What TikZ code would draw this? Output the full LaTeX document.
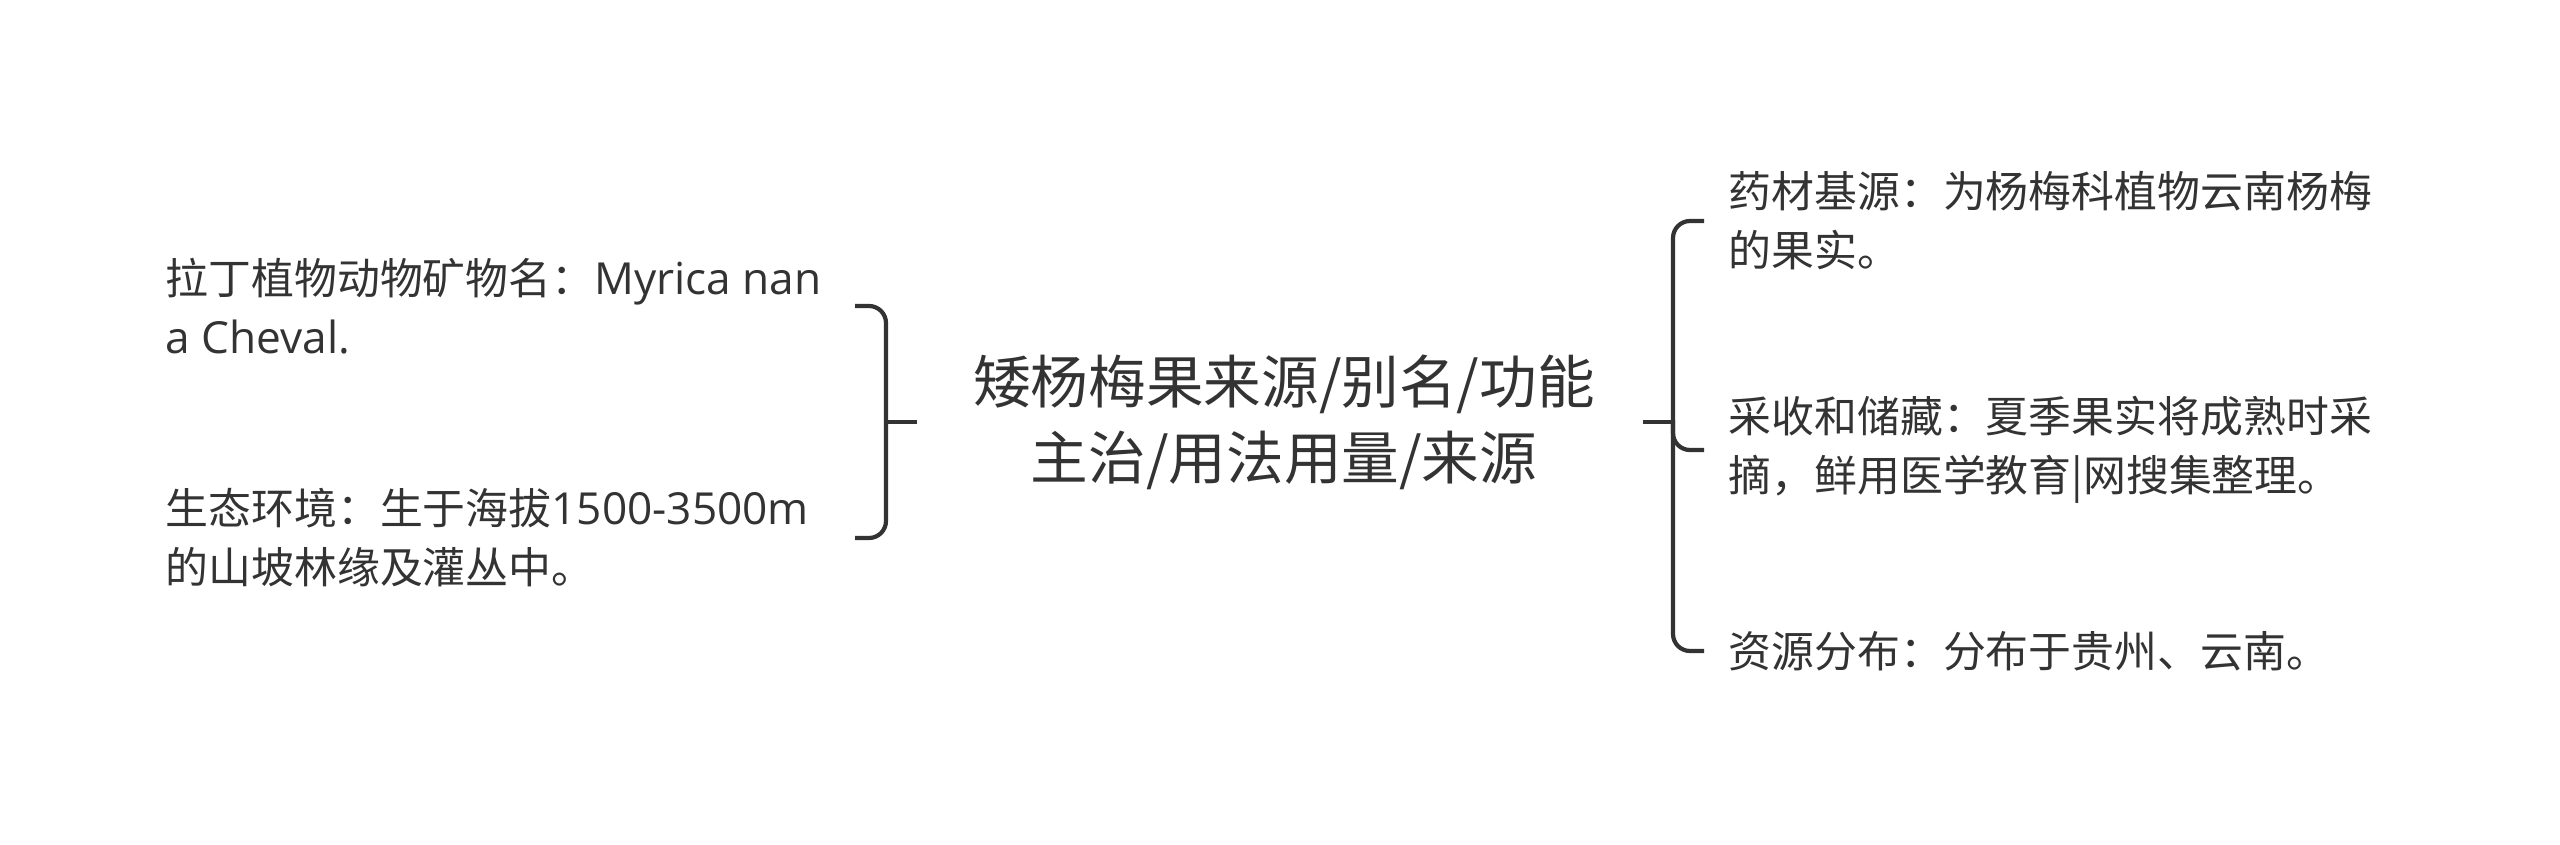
\documentclass[tikz,border=0pt]{standalone}
\usepackage{fontspec}
\setmainfont{Noto Sans CJK SC}
\newfontfamily\latinfont[Scale=1.03]{Open Sans}
\definecolor{ink}{HTML}{333333}
\begin{document}
\begin{tikzpicture}[x=0.1mm, y=-0.1mm,
		leaf/.style={ink, anchor=west, align=left, inner sep=0pt, font=\fontsize{12.2pt}{16.8pt}\selectfont},
		topic/.style={ink, anchor=center, align=center, inner sep=0pt, font=\fontsize{16.4pt}{21.6pt}\selectfont},
		brace/.style={draw=ink, line width=0.42mm, solid, rounded corners=1.7mm}]
		\useasboundingbox (0.00,0.00) rectangle (2560.00,845.00);
		\fill[white] (0.00,0.00) rectangle (2560.00,845.00);
		\node[topic] (root) at (1284.00,422.00) {矮杨梅果来源/别名/功能\\主治/用法用量/来源};
		\node[leaf] (latin) at (165.00,306.00) {拉丁植物动物矿物名：{\latinfont Myrica nan}\\{\latinfont a Cheval.}};
		\node[leaf] (habitat) at (165.00,538.00) {生态环境：生于海拔{\latinfont 1500-3500m}\\的山坡林缘及灌丛中。};
		\node[leaf] (source) at (1728.00,221.00) {药材基源：为杨梅科植物云南杨梅\\的果实。};
		\node[leaf] (harvest) at (1728.00,450.00) {采收和储藏：夏季果实将成熟时采\\摘，鲜用医学教育|网搜集整理。};
		\node[leaf] (distrib) at (1728.00,651.00) {资源分布：分布于贵州、云南。};
		\coordinate (ltip) at (855.00,422.00);
		\coordinate (lspine) at (886.00,422.00);
		\coordinate (lstub) at (917.00,422.00);
		\coordinate (rstub) at (1643.00,422.00);
		\coordinate (rspine) at (1673.00,422.00);
		\coordinate (rtip) at (1704.00,422.00);
		\draw[brace] (ltip |- latin) -- (lspine |- latin) -- (lspine |- habitat) -- (ltip |- habitat);
		\draw[brace] (lspine) -- (lstub);
		\draw[brace] (rstub) -- (rspine);
		\draw[brace] (rtip |- source) -- (rspine |- source) -- (rspine |- distrib) -- (rtip |- distrib);
		\draw[brace] (rspine |- harvest) ++(0.00,-30.00) -- (rspine |- harvest) -- (rtip |- harvest);
	\end{tikzpicture}
\end{document}
